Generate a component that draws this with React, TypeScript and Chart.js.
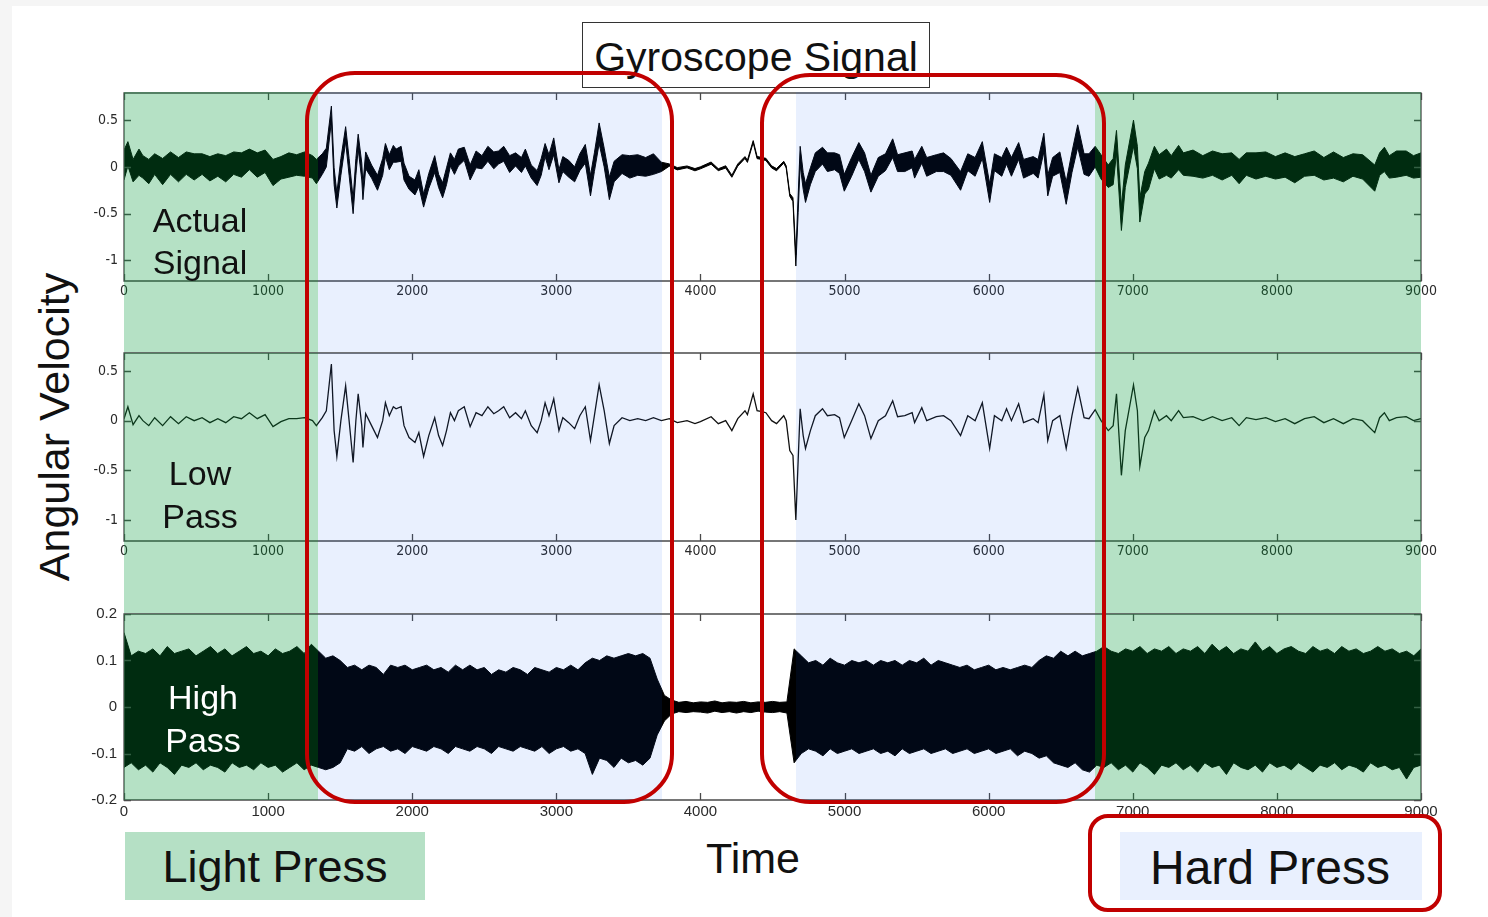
import React, { useEffect, useRef } from "react";
import { Chart, registerables } from "chart.js";

Chart.register(...registerables);

// ---------- DATA ----------
const timeTicks = [0, 1000, 2000, 3000, 4000, 5000, 6000, 7000, 8000, 9000];
const actualTicks = [-1, -0.5, 0, 0.5];
const lowPassTicks = [-1, -0.5, 0, 0.5];
const highPassTicks = [-0.2, -0.1, 0, 0.1, 0.2];

// press regions along the time axis
const pressStart = [0, 1346, 4663, 6738];
const pressEnd = [1346, 3733, 6738, 9000];
const pressKind = ["light", "hard", "hard", "light"];

// low-pass filtered angular velocity
const lowPassTime = [
  0, 27, 63, 104, 131, 172, 213, 268, 323, 378,
  432, 487, 542, 596, 651, 706, 761, 815, 870, 925,
  979, 1034, 1089, 1144, 1198, 1253, 1308, 1335, 1376, 1404,
  1439, 1458, 1477, 1505, 1538, 1562, 1590, 1609, 1625, 1650,
  1658, 1677, 1718, 1759, 1795, 1814, 1841, 1869, 1888, 1923,
  1943, 1978, 2019, 2046, 2079, 2115, 2156, 2183, 2211, 2238,
  2265, 2293, 2320, 2361, 2402, 2443, 2484, 2525, 2566, 2599,
  2635, 2676, 2717, 2758, 2785, 2826, 2867, 2895, 2922, 2949,
  2982, 3018, 3045, 3086, 3127, 3163, 3201, 3237, 3264, 3297,
  3332, 3368, 3401, 3456, 3510, 3565, 3620, 3674, 3729, 3784,
  3839, 3907, 3962, 4000, 4074, 4124, 4175, 4218, 4259, 4309,
  4326, 4366, 4393, 4427, 4454, 4494, 4528, 4578, 4595, 4620,
  4642, 4662, 4678, 4692, 4713, 4729, 4763, 4797, 4847, 4881,
  4931, 4965, 4998, 5049, 5099, 5139, 5183, 5234, 5284, 5334,
  5368, 5418, 5469, 5486, 5536, 5570, 5637, 5687, 5738, 5805,
  5855, 5906, 5956, 6007, 6040, 6091, 6124, 6158, 6208, 6242,
  6309, 6343, 6383, 6410, 6444, 6494, 6538, 6578, 6618, 6662,
  6696, 6739, 6780, 6830, 6864, 6887, 6921, 6948, 7005, 7032,
  7049, 7083, 7109, 7150, 7183, 7234, 7267, 7318, 7351, 7418,
  7486, 7553, 7620, 7687, 7738, 7788, 7855, 7923, 7990, 8057,
  8124, 8192, 8259, 8326, 8393, 8461, 8528, 8595, 8679, 8713,
  8746, 8780, 8830, 8897, 8948, 9000,
];
const lowPassValue = [
  0.02, 0.14, -0.04, 0.05, 0.0, -0.05, 0.03, -0.05, 0.04, -0.03,
  0.04, 0.0, 0.03, -0.02, 0.02, -0.02, 0.04, 0.02, 0.08, 0.02,
  0.06, -0.06, -0.01, 0.02, 0.02, 0.03, 0.0, -0.05, 0.03, 0.1,
  0.57, -0.1, -0.36, 0.0, 0.35, 0.0, -0.42, 0.0, 0.27, -0.05,
  -0.27, 0.07, -0.05, -0.17, 0.0, 0.18, 0.05, 0.14, 0.12, 0.14,
  -0.05, -0.17, -0.22, -0.12, -0.36, -0.15, 0.03, -0.15, -0.25, -0.1,
  0.08, 0.0, 0.1, 0.14, -0.06, 0.08, 0.05, 0.14, 0.07, 0.1,
  0.14, 0.03, 0.08, 0.02, 0.1, -0.05, -0.12, 0.0, 0.18, 0.05,
  0.22, -0.1, 0.03, -0.02, -0.08, 0.05, 0.14, -0.2, 0.05, 0.36,
  0.1, -0.23, -0.05, 0.03, 0.0, 0.02, 0.0, 0.03, 0.0, 0.02,
  -0.02, 0.0, -0.03, -0.01, 0.04, -0.03, 0.0, -0.1, 0.02, 0.1,
  0.06, 0.27, 0.1, 0.09, 0.08, 0.0, -0.03, 0.05, 0.0, -0.3,
  -0.35, -1.0, -0.4, 0.12, -0.15, -0.28, -0.1, 0.05, 0.12, 0.05,
  0.06, 0.03, -0.17, 0.0, 0.17, 0.05, -0.18, 0.0, 0.05, 0.2,
  0.04, 0.05, 0.08, -0.02, 0.13, 0.0, 0.04, 0.05, 0.0, -0.15,
  0.05, 0.0, 0.18, -0.28, 0.05, 0.0, 0.12, 0.0, 0.17, -0.02,
  0.02, -0.02, 0.26, -0.2, 0.0, 0.05, -0.28, 0.05, 0.33, 0.03,
  0.02, 0.11, 0.0, -0.1, -0.05, 0.27, -0.55, -0.1, 0.36, 0.1,
  -0.46, -0.17, -0.1, 0.1, 0.0, 0.05, 0.0, 0.1, 0.03, 0.04,
  0.0, 0.04, 0.0, 0.03, -0.05, 0.03, 0.01, 0.03, -0.01, 0.02,
  -0.03, 0.02, 0.04, -0.02, 0.02, -0.03, 0.02, 0.0, -0.12, 0.03,
  0.08, 0.0, 0.03, 0.04, 0.0, 0.02,
];
// thickness (half-width) of the noisy raw signal around the low-pass curve
const actualSpread = [
  0.16, 0.13, 0.12, 0.14, 0.12, 0.13, 0.11, 0.14, 0.12, 0.13,
  0.12, 0.14, 0.11, 0.13, 0.12, 0.14, 0.12, 0.13, 0.11, 0.13,
  0.12, 0.14, 0.12, 0.13, 0.11, 0.13, 0.12, 0.13, 0.11, 0.1,
  0.08, 0.09, 0.08, 0.09, 0.08, 0.09, 0.08, 0.09, 0.08, 0.09,
  0.08, 0.09, 0.07, 0.08, 0.09, 0.07, 0.08, 0.09, 0.07, 0.08,
  0.09, 0.07, 0.08, 0.09, 0.07, 0.08, 0.09, 0.07, 0.08, 0.09,
  0.07, 0.08, 0.09, 0.07, 0.08, 0.09, 0.07, 0.08, 0.09, 0.07,
  0.08, 0.09, 0.07, 0.08, 0.09, 0.07, 0.08, 0.09, 0.07, 0.08,
  0.09, 0.07, 0.08, 0.09, 0.08, 0.09, 0.1, 0.11, 0.1, 0.11,
  0.1, 0.12, 0.11, 0.1, 0.12, 0.11, 0.1, 0.11, 0.05, 0.012,
  0.012, 0.01, 0.012, 0.011, 0.012, 0.01, 0.012, 0.011, 0.012, 0.01,
  0.012, 0.011, 0.012, 0.01, 0.012, 0.011, 0.012, 0.01, 0.012, 0.015,
  0.02, 0.06, 0.09, 0.1, 0.09, 0.1, 0.09, 0.1, 0.09, 0.1,
  0.09, 0.1, 0.09, 0.1, 0.09, 0.1, 0.09, 0.1, 0.09, 0.1,
  0.09, 0.1, 0.09, 0.1, 0.09, 0.1, 0.09, 0.1, 0.09, 0.1,
  0.09, 0.1, 0.09, 0.1, 0.09, 0.1, 0.09, 0.1, 0.09, 0.1,
  0.09, 0.1, 0.1, 0.11, 0.1, 0.11, 0.12, 0.11, 0.12, 0.11,
  0.12, 0.11, 0.13, 0.12, 0.14, 0.12, 0.13, 0.12, 0.14, 0.12,
  0.13, 0.12, 0.14, 0.12, 0.13, 0.14, 0.12, 0.13, 0.12, 0.14,
  0.12, 0.13, 0.14, 0.12, 0.13, 0.12, 0.14, 0.13, 0.12, 0.13,
  0.14, 0.12, 0.13, 0.12, 0.14, 0.13, 0.12, 0.13, 0.14, 0.12,
  0.13, 0.12, 0.14, 0.13, 0.12, 0.13,
];

// high-pass filtered signal envelope
const highPassTime = [
  0, 50, 100, 150, 200, 250, 300, 350, 400, 450,
  500, 550, 600, 650, 700, 750, 800, 850, 900, 950,
  1000, 1050, 1100, 1150, 1200, 1250, 1300, 1350, 1400, 1450,
  1500, 1550, 1600, 1650, 1700, 1750, 1800, 1850, 1900, 1950,
  2000, 2050, 2100, 2150, 2200, 2250, 2300, 2350, 2400, 2450,
  2500, 2550, 2600, 2650, 2700, 2750, 2800, 2850, 2900, 2950,
  3000, 3050, 3100, 3150, 3200, 3250, 3300, 3350, 3400, 3450,
  3500, 3550, 3600, 3650, 3700, 3750, 3800, 3850, 3900, 3950,
  4000, 4050, 4100, 4150, 4200, 4250, 4300, 4350, 4400, 4450,
  4500, 4550, 4600, 4650, 4700, 4750, 4800, 4850, 4900, 4950,
  5000, 5050, 5100, 5150, 5200, 5250, 5300, 5350, 5400, 5450,
  5500, 5550, 5600, 5650, 5700, 5750, 5800, 5850, 5900, 5950,
  6000, 6050, 6100, 6150, 6200, 6250, 6300, 6350, 6400, 6450,
  6500, 6550, 6600, 6650, 6700, 6750, 6800, 6850, 6900, 6950,
  7000, 7050, 7100, 7150, 7200, 7250, 7300, 7350, 7400, 7450,
  7500, 7550, 7600, 7650, 7700, 7750, 7800, 7850, 7900, 7950,
  8000, 8050, 8100, 8150, 8200, 8250, 8300, 8350, 8400, 8450,
  8500, 8550, 8600, 8650, 8700, 8750, 8800, 8850, 8900, 8950,
  9000,
];
const highPassUpper = [
  0.16, 0.11, 0.12, 0.115, 0.125, 0.11, 0.13, 0.115, 0.12, 0.125,
  0.11, 0.12, 0.13, 0.115, 0.125, 0.11, 0.12, 0.13, 0.115, 0.12,
  0.11, 0.125, 0.115, 0.12, 0.13, 0.115, 0.135, 0.12, 0.105, 0.11,
  0.1, 0.085, 0.09, 0.08, 0.09, 0.085, 0.07, 0.09, 0.085, 0.09,
  0.08, 0.085, 0.09, 0.08, 0.085, 0.075, 0.09, 0.08, 0.09, 0.08,
  0.085, 0.07, 0.08, 0.075, 0.085, 0.08, 0.07, 0.085, 0.08, 0.075,
  0.085, 0.08, 0.09, 0.08, 0.095, 0.105, 0.1, 0.11, 0.105, 0.11,
  0.115, 0.11, 0.115, 0.105, 0.06, 0.025, 0.015, 0.01, 0.012, 0.009,
  0.011, 0.01, 0.013, 0.009, 0.011, 0.01, 0.012, 0.009, 0.011, 0.01,
  0.012, 0.01, 0.011, 0.125, 0.11, 0.095, 0.1, 0.09, 0.105, 0.095,
  0.09, 0.1, 0.095, 0.1, 0.09, 0.1, 0.095, 0.1, 0.09, 0.1,
  0.095, 0.105, 0.09, 0.1, 0.095, 0.09, 0.085, 0.09, 0.08, 0.085,
  0.09, 0.08, 0.085, 0.08, 0.085, 0.09, 0.085, 0.1, 0.11, 0.105,
  0.12, 0.11, 0.12, 0.11, 0.115, 0.12, 0.13, 0.12, 0.115, 0.125,
  0.12, 0.13, 0.115, 0.125, 0.12, 0.13, 0.115, 0.125, 0.12, 0.13,
  0.115, 0.135, 0.12, 0.13, 0.115, 0.125, 0.12, 0.14, 0.12, 0.13,
  0.115, 0.125, 0.13, 0.12, 0.115, 0.13, 0.12, 0.125, 0.115, 0.13,
  0.12, 0.125, 0.115, 0.12, 0.13, 0.12, 0.125, 0.115, 0.12, 0.11,
  0.125,
];
const highPassLower = [
  -0.13, -0.12, -0.135, -0.125, -0.14, -0.12, -0.13, -0.145, -0.125, -0.13,
  -0.12, -0.135, -0.125, -0.13, -0.14, -0.12, -0.13, -0.125, -0.135, -0.12,
  -0.13, -0.125, -0.14, -0.13, -0.12, -0.135, -0.125, -0.13, -0.135, -0.13,
  -0.12, -0.09, -0.095, -0.085, -0.1, -0.09, -0.085, -0.095, -0.09, -0.1,
  -0.085, -0.09, -0.095, -0.085, -0.09, -0.1, -0.085, -0.09, -0.095, -0.085,
  -0.09, -0.1, -0.085, -0.09, -0.095, -0.085, -0.09, -0.095, -0.085, -0.1,
  -0.09, -0.085, -0.095, -0.09, -0.1, -0.145, -0.11, -0.115, -0.13, -0.11,
  -0.12, -0.115, -0.125, -0.11, -0.06, -0.03, -0.015, -0.01, -0.012, -0.01,
  -0.011, -0.013, -0.009, -0.012, -0.01, -0.013, -0.01, -0.012, -0.009, -0.011,
  -0.012, -0.01, -0.013, -0.12, -0.1, -0.09, -0.095, -0.105, -0.09, -0.1,
  -0.095, -0.09, -0.1, -0.095, -0.09, -0.1, -0.095, -0.105, -0.09, -0.1,
  -0.095, -0.09, -0.1, -0.095, -0.09, -0.1, -0.095, -0.09, -0.1, -0.095,
  -0.09, -0.1, -0.095, -0.09, -0.105, -0.095, -0.1, -0.11, -0.105, -0.12,
  -0.125, -0.13, -0.12, -0.135, -0.14, -0.125, -0.13, -0.12, -0.135, -0.125,
  -0.14, -0.12, -0.13, -0.145, -0.125, -0.13, -0.12, -0.135, -0.125, -0.14,
  -0.12, -0.13, -0.125, -0.145, -0.12, -0.13, -0.135, -0.125, -0.14, -0.12,
  -0.13, -0.125, -0.135, -0.12, -0.13, -0.14, -0.125, -0.13, -0.12, -0.135,
  -0.125, -0.13, -0.14, -0.12, -0.13, -0.125, -0.135, -0.13, -0.155, -0.13,
  -0.125,
];

// ---------- STYLE ----------
const LIGHT_OVERLAY = "rgba(0,150,55,0.29)";
const HARD_OVERLAY = "rgba(10,90,240,0.09)";
const LIGHT_SOLID = "rgb(181,224,197)";
const HARD_SOLID = "rgb(233,240,254)";
const RED = "#c10000";
const SANS = "'Liberation Sans', Arial, Helvetica, sans-serif";
const NARROW = "'Liberation Sans Narrow', 'DejaVu Sans Condensed', 'Liberation Sans', sans-serif";

const framePlugin = {
  id: "frameAndShade",
  afterDraw(chart: any, _args: any, opts: any) {
    const { ctx, chartArea } = chart;
    const { left, right, top, bottom } = chartArea;
    const xs = chart.scales.x;
    const ys = chart.scales.y;
    ctx.save();
    ctx.strokeStyle = "#4a4a4a";
    ctx.lineWidth = 1.3;
    ctx.beginPath();
    ctx.rect(left, top, right - left, bottom - top);
    const tl = 7;
    xs.ticks.forEach((t: any) => {
      const p = Math.round(xs.getPixelForValue(t.value)) + 0.5;
      ctx.moveTo(p, bottom);
      ctx.lineTo(p, bottom - tl);
      ctx.moveTo(p, top);
      ctx.lineTo(p, top + tl);
    });
    ys.ticks.forEach((t: any) => {
      const p = Math.round(ys.getPixelForValue(t.value)) + 0.5;
      ctx.moveTo(left, p);
      ctx.lineTo(left + tl, p);
      ctx.moveTo(right, p);
      ctx.lineTo(right - tl, p);
    });
    ctx.stroke();
    const y0 = top - (opts.extendAbove || 0);
    const y1 = bottom + (opts.extendBelow || 0);
    pressStart.forEach((s, i) => {
      const x0 = Math.round(xs.getPixelForValue(s));
      const x1 = Math.round(xs.getPixelForValue(pressEnd[i]));
      ctx.fillStyle = pressKind[i] === "light" ? LIGHT_OVERLAY : HARD_OVERLAY;
      ctx.fillRect(x0, y0, x1 - x0, y1 - y0);
    });
    ctx.restore();
  },
};

type PanelSpec = {
  top: number;
  height: number;
  xAxisHeight: number;
  yMin: number;
  yMax: number;
  yTicks: number[];
  fontFamily: string;
  fontSize: number;
  xPad: number;
  yPad: number;
  extendAbove: number;
  extendBelow: number;
  datasets: any[];
};

const CANVAS_LEFT = 84;
const CANVAS_WIDTH = 1361;

function pts(xs: number[], ys: number[]) {
  return xs.map((x, i) => ({ x, y: ys[i] }));
}

function Panel({ spec }: { spec: PanelSpec }) {
  const ref = useRef<HTMLCanvasElement | null>(null);
  useEffect(() => {
    if (!ref.current) return;
    const font = { family: spec.fontFamily, size: spec.fontSize };
    const chart = new Chart(ref.current, {
      type: "line",
      data: { datasets: spec.datasets },
      options: {
        responsive: false,
        animation: false,
        devicePixelRatio: 1,
        layout: { padding: { top: 10, right: 24, bottom: 0, left: 0 } },
        elements: { point: { radius: 0 }, line: { tension: 0 } },
        plugins: {
          legend: { display: false },
          tooltip: { enabled: false },
          title: { display: false },
          frameAndShade: { extendAbove: spec.extendAbove, extendBelow: spec.extendBelow },
        } as any,
        scales: {
          x: {
            type: "linear",
            min: 0,
            max: 9000,
            grid: { display: false, drawTicks: false },
            border: { display: false },
            afterBuildTicks: (s: any) => {
              s.ticks = timeTicks.map((v) => ({ value: v }));
            },
            afterFit: (s: any) => {
              s.height = spec.xAxisHeight;
              s.paddingLeft = 0;
              s.paddingRight = 0;
            },
            ticks: {
              autoSkip: false,
              maxRotation: 0,
              padding: spec.xPad,
              color: "#2a2a2a",
              font,
              callback: (v: any) => String(v),
            },
          },
          y: {
            type: "linear",
            min: spec.yMin,
            max: spec.yMax,
            grid: { display: false, drawTicks: false },
            border: { display: false },
            afterBuildTicks: (s: any) => {
              s.ticks = spec.yTicks.map((v) => ({ value: v }));
            },
            afterFit: (s: any) => {
              s.width = 40;
              s.paddingTop = 0;
              s.paddingBottom = 0;
            },
            ticks: {
              autoSkip: false,
              padding: spec.yPad,
              color: "#2a2a2a",
              font,
              callback: (v: any) => String(v),
            },
          },
        },
      },
      plugins: [framePlugin],
    } as any);
    return () => chart.destroy();
  }, []);
  return (
    <canvas
      ref={ref}
      width={CANVAS_WIDTH}
      height={spec.height}
      style={{
        position: "absolute",
        left: CANVAS_LEFT,
        top: spec.top,
        width: CANVAS_WIDTH,
        height: spec.height,
      }}
    />
  );
}

const bandStyle = {
  borderColor: "#000",
  backgroundColor: "#000",
  borderWidth: 1,
  pointRadius: 0,
};

const panels: PanelSpec[] = [
  {
    top: 83,
    height: 270,
    xAxisHeight: 72,
    yMin: -1.22,
    yMax: 0.79,
    yTicks: actualTicks,
    fontFamily: NARROW,
    fontSize: 14,
    xPad: 2,
    yPad: 6,
    extendAbove: 1,
    extendBelow: 72,
    datasets: [
      {
        ...bandStyle,
        data: pts(lowPassTime, lowPassValue.map((v, i) => v + actualSpread[i])),
        fill: "+1",
      },
      {
        ...bandStyle,
        data: pts(lowPassTime, lowPassValue.map((v, i) => v - actualSpread[i])),
        fill: false,
      },
    ],
  },
  {
    top: 343,
    height: 271,
    xAxisHeight: 73,
    yMin: -1.211,
    yMax: 0.681,
    yTicks: lowPassTicks,
    fontFamily: NARROW,
    fontSize: 14,
    xPad: 2,
    yPad: 6,
    extendAbove: 0,
    extendBelow: 73,
    datasets: [
      {
        data: pts(lowPassTime, lowPassValue),
        borderColor: "#111",
        borderWidth: 1.3,
        pointRadius: 0,
        fill: false,
      },
    ],
  },
  {
    top: 604,
    height: 226,
    xAxisHeight: 30,
    yMin: -0.2,
    yMax: 0.2,
    yTicks: highPassTicks,
    fontFamily: SANS,
    fontSize: 15,
    xPad: 3,
    yPad: 7,
    extendAbove: 0,
    extendBelow: 0,
    datasets: [
      { ...bandStyle, data: pts(highPassTime, highPassUpper), fill: "+1" },
      { ...bandStyle, data: pts(highPassTime, highPassLower), fill: false },
    ],
  },
];

function Label({
  x,
  y,
  size,
  color = "#111",
  rotate = 0,
  children,
}: {
  x: number;
  y: number;
  size: number;
  color?: string;
  rotate?: number;
  children: React.ReactNode;
}) {
  return (
    <div
      style={{
        position: "absolute",
        left: x,
        top: y,
        transform: `translate(-50%, -50%) rotate(${rotate}deg)`,
        fontFamily: SANS,
        fontSize: size,
        lineHeight: 1,
        color,
        whiteSpace: "nowrap",
        textAlign: "center",
      }}
    >
      {children}
    </div>
  );
}

function RedBox({ l, t, r, b, radius }: { l: number; t: number; r: number; b: number; radius: number }) {
  return (
    <div
      style={{
        position: "absolute",
        left: l,
        top: t,
        width: r - l,
        height: b - t,
        border: `4px solid ${RED}`,
        borderRadius: radius,
        boxSizing: "border-box",
        pointerEvents: "none",
      }}
    />
  );
}

export default function App() {
  return (
    <div
      style={{
        position: "absolute",
        left: 0,
        top: 0,
        width: 1488,
        height: 917,
        background: "#fff",
        overflow: "hidden",
      }}
    >
      <div style={{ position: "absolute", left: 0, top: 0, width: 1488, height: 6, background: "#f5f5f5" }} />
      <div style={{ position: "absolute", left: 0, top: 0, width: 12, height: 917, background: "#f5f5f5" }} />

      {panels.map((p, i) => (
        <Panel key={i} spec={p} />
      ))}

      {/* panel labels */}
      <Label x={200} y={220} size={34}>Actual</Label>
      <Label x={200} y={262} size={34}>Signal</Label>
      <Label x={200} y={473} size={34}>Low</Label>
      <Label x={200} y={516} size={34}>Pass</Label>
      <Label x={203} y={697} size={34} color="#fff">High</Label>
      <Label x={203} y={740} size={34} color="#fff">Pass</Label>

      {/* title */}
      <div
        style={{
          position: "absolute",
          left: 582,
          top: 22,
          width: 348,
          height: 66,
          border: "1.5px solid #333",
          boxSizing: "border-box",
          background: "#fff",
          display: "flex",
          alignItems: "center",
          justifyContent: "center",
          fontFamily: SANS,
          fontSize: 41,
          color: "#111",
          whiteSpace: "nowrap",
          paddingTop: 4,
        }}
      >
        Gyroscope Signal
      </div>

      <Label x={54} y={427} size={43} rotate={-90}>Angular Velocity</Label>
      <Label x={753} y={858} size={43}>Time</Label>

      {/* legend boxes */}
      <div style={{ position: "absolute", left: 125, top: 832, width: 300, height: 68, background: LIGHT_SOLID }} />
      <Label x={275} y={866} size={45}>Light Press</Label>
      <div style={{ position: "absolute", left: 1120, top: 832, width: 302, height: 68, background: HARD_SOLID }} />
      <Label x={1270} y={868} size={48}>Hard Press</Label>

      {/* red highlight frames */}
      <RedBox l={305} t={71} r={674} b={804} radius={50} />
      <RedBox l={760} t={73} r={1106} b={804} radius={50} />
      <RedBox l={1088} t={814} r={1442} b={912} radius={20} />
    </div>
  );
}
